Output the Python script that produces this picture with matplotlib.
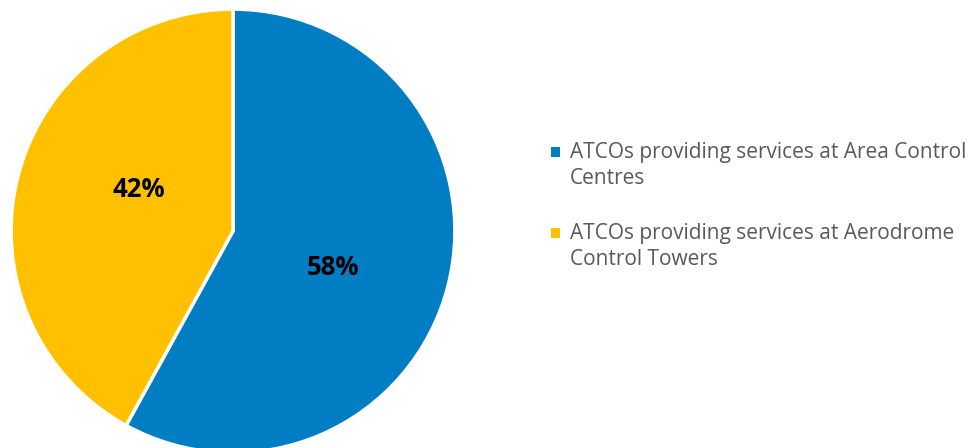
import matplotlib.pyplot as plt
from matplotlib.patches import Patch, Rectangle
from matplotlib.legend_handler import HandlerPatch

labels = ["ATCOs providing services at Area Control\nCentres",
          "ATCOs providing services at Aerodrome\nControl Towers"]
shares = [58, 42]
colors = ["#007DC3", "#FFC000"]

plt.rcParams['font.family'] = ['Open Sans', 'DejaVu Sans']

fig = plt.figure(figsize=(9.73, 4.48), dpi=100)
# pie centre ~ (233, 231) px, radius ~222 px
ax = fig.add_axes([10/973, -6/448, 446/973, 446/448])

wedges, texts, autotexts = ax.pie(shares, colors=colors, startangle=90, counterclock=False,
                                  autopct='%d%%', pctdistance=0.47,
                                  wedgeprops=dict(edgecolor='white', linewidth=2.5),
                                  textprops=dict(fontsize=18.5, fontweight='bold', color='black'))
autotexts[0].set_position((0.452, -0.163))
autotexts[1].set_position((-0.425, 0.186))
ax.set_xlim(-1.005, 1.005)
ax.set_ylim(-1.005, 1.005)
ax.set_aspect('equal')


def top_square(legend, orig_handle, xdescent, ydescent, width, height, fontsize):
    # square marker next to the first line of a two-line label
    s = 0.45 * fontsize
    y = -ydescent + height / 2 - s / 2 + 0.68 * fontsize
    return Rectangle((-xdescent, y), s, s)


handles = [Patch(facecolor=c, edgecolor='none') for c in colors]
leg = fig.legend(handles, labels, loc='upper left', bbox_to_anchor=(532/973, 1 - 123/448),
                 frameon=False, fontsize=15, handlelength=0.45, handleheight=0.45,
                 handletextpad=0.45, labelspacing=1.6, labelcolor='#595959',
                 handler_map={Patch: HandlerPatch(patch_func=top_square)})
for t in leg.get_texts():
    t.set_linespacing(1.35)

plt.savefig("out.png", dpi=100)
